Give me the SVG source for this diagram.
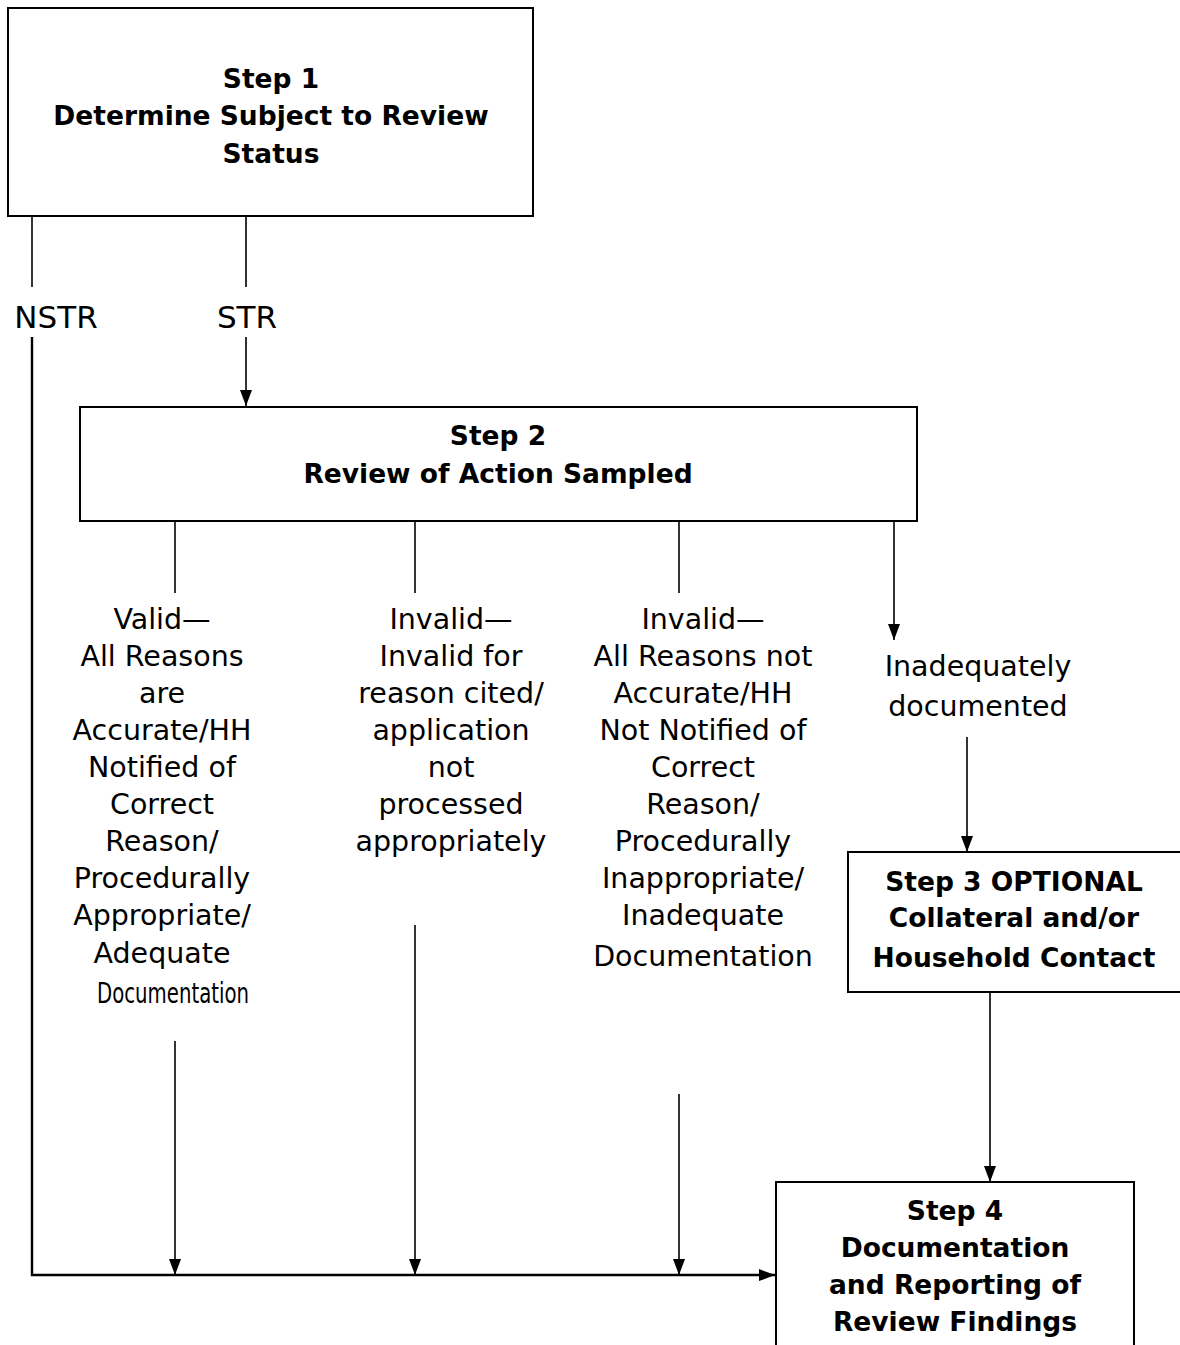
<svg xmlns="http://www.w3.org/2000/svg" width="1180" height="1345" viewBox="0 0 1180 1345">
<style>
.box{fill:#fff;stroke:#000;stroke-width:2}
.ln{fill:none;stroke:#000;stroke-width:1.6}
.b{font-family:"DejaVu Sans",Verdana,sans-serif;font-weight:bold;font-size:26.5px;text-anchor:middle;fill:#000}
.r{font-family:"DejaVu Sans",Verdana,sans-serif;font-size:28.5px;text-anchor:middle;fill:#000}
.lab{font-family:"DejaVu Sans",Verdana,sans-serif;font-size:31px;text-anchor:middle;fill:#000}
</style>
<defs>
<marker id="ah" markerUnits="userSpaceOnUse" markerWidth="16" markerHeight="14" viewBox="0 0 16 14" refX="16" refY="7" orient="auto">
<path d="M0,1 L16,7 L0,13 Z" fill="#000"/>
</marker>
</defs>
<rect width="1180" height="1345" fill="#fff"/>
<g id="connectors">
<line class="ln" x1="32" y1="216" x2="32" y2="287"/>
<line class="ln" x1="246" y1="216" x2="246" y2="287"/>
<polyline class="ln" points="32,337 32,1275 775,1275" style="stroke-width:2.4" marker-end="url(#ah)"/>
<line class="ln" x1="246" y1="337" x2="246" y2="406" marker-end="url(#ah)"/>
<line class="ln" x1="175" y1="521" x2="175" y2="593"/>
<line class="ln" x1="415" y1="521" x2="415" y2="593"/>
<line class="ln" x1="679" y1="521" x2="679" y2="593"/>
<line class="ln" x1="894" y1="521" x2="894" y2="640" marker-end="url(#ah)"/>
<line class="ln" x1="967" y1="737" x2="967" y2="852" marker-end="url(#ah)"/>
<line class="ln" x1="990" y1="992" x2="990" y2="1182" marker-end="url(#ah)"/>
<line class="ln" x1="175" y1="1041" x2="175" y2="1275" marker-end="url(#ah)"/>
<line class="ln" x1="415" y1="925" x2="415" y2="1275" marker-end="url(#ah)"/>
<line class="ln" x1="679" y1="1094" x2="679" y2="1275" marker-end="url(#ah)"/>
<text class="lab" x="56" y="328">NSTR</text>
<text class="lab" x="247" y="328">STR</text>
</g>
<g id="step1">
<rect class="box" x="8" y="8" width="525" height="208"/>
<text class="b" x="271" y="88">Step 1</text>
<text class="b" x="271" y="125">Determine Subject to Review</text>
<text class="b" x="271" y="163">Status</text>
</g>
<g id="step2">
<rect class="box" x="80" y="407" width="837" height="114"/>
<text class="b" x="498" y="445">Step 2</text>
<text class="b" x="498" y="483">Review of Action Sampled</text>
</g>
<g id="valid">
<text class="r" x="162" y="629">Valid—</text>
<text class="r" x="162" y="666">All Reasons</text>
<text class="r" x="162" y="703">are</text>
<text class="r" x="162" y="740">Accurate/HH</text>
<text class="r" x="162" y="777">Notified of</text>
<text class="r" x="162" y="814">Correct</text>
<text class="r" x="162" y="851">Reason/</text>
<text class="r" x="162" y="888">Procedurally</text>
<text class="r" x="162" y="925">Appropriate/</text>
<text class="r" x="162" y="963">Adequate</text>
<text class="r" x="173" y="1003" textLength="152" lengthAdjust="spacingAndGlyphs">Documentation</text>
</g>
<g id="invalid1">
<text class="r" x="451" y="629">Invalid—</text>
<text class="r" x="451" y="666">Invalid for</text>
<text class="r" x="451" y="703">reason cited/</text>
<text class="r" x="451" y="740">application</text>
<text class="r" x="451" y="777">not</text>
<text class="r" x="451" y="814">processed</text>
<text class="r" x="451" y="851">appropriately</text>
</g>
<g id="invalid2">
<text class="r" x="703" y="629">Invalid—</text>
<text class="r" x="703" y="666">All Reasons not</text>
<text class="r" x="703" y="703">Accurate/HH</text>
<text class="r" x="703" y="740">Not Notified of</text>
<text class="r" x="703" y="777">Correct</text>
<text class="r" x="703" y="814">Reason/</text>
<text class="r" x="703" y="851">Procedurally</text>
<text class="r" x="703" y="888">Inappropriate/</text>
<text class="r" x="703" y="925">Inadequate</text>
<text class="r" x="703" y="966">Documentation</text>
</g>
<g id="inadequate">
<text class="r" x="978" y="676">Inadequately</text>
<text class="r" x="978" y="716">documented</text>
</g>
<g id="step3">
<rect class="box" x="848" y="852" width="340" height="140"/>
<text class="b" x="1014" y="891">Step 3 OPTIONAL</text>
<text class="b" x="1014" y="927">Collateral and/or</text>
<text class="b" x="1014" y="967">Household Contact</text>
</g>
<g id="step4">
<rect class="box" x="776" y="1182" width="358" height="170"/>
<text class="b" x="955" y="1220">Step 4</text>
<text class="b" x="955" y="1257">Documentation</text>
<text class="b" x="955" y="1294">and Reporting of</text>
<text class="b" x="955" y="1331">Review Findings</text>
</g>
</svg>
